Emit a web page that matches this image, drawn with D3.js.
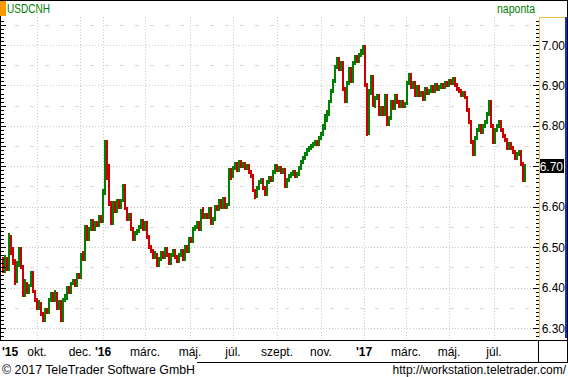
<!DOCTYPE html>
<html>
<head>
<meta charset="utf-8">
<script src="https://cdn.jsdelivr.net/npm/d3@7.9.0/dist/d3.min.js"></script>
<style>
  body { margin: 0; background: #fff; }
  svg { display: block; font-family: "Liberation Sans", Arial, sans-serif; }
</style>
</head>
<body>
<svg id="chart" width="568" height="377"></svg>
<script>
// USDCNH daily, one candle per ~2 trading days (Aug 2015 - Aug 2017)
const firstOpen = 6.46;
const closes = [
  6.44, 6.47, 6.445, 6.53, 6.49, 6.465, 6.415, 6.455, 6.49, 6.45,
  6.38, 6.41, 6.39, 6.405, 6.435, 6.39, 6.37, 6.35, 6.36, 6.335,
  6.32, 6.345, 6.34, 6.37, 6.385, 6.37, 6.385, 6.35, 6.365, 6.32,
  6.37, 6.375, 6.40, 6.39, 6.41, 6.415, 6.405, 6.43, 6.425, 6.48,
  6.47, 6.55, 6.52, 6.545, 6.565, 6.545, 6.56, 6.555, 6.575, 6.565,
  6.64, 6.76, 6.70, 6.61, 6.56, 6.61, 6.59, 6.615, 6.60, 6.615,
  6.65, 6.595, 6.57, 6.58, 6.545, 6.52, 6.535, 6.54, 6.55, 6.565,
  6.545, 6.56, 6.525, 6.50, 6.49, 6.475, 6.48, 6.455, 6.47, 6.485,
  6.475, 6.495, 6.48, 6.46, 6.48, 6.49, 6.475, 6.465, 6.48, 6.49,
  6.47, 6.50, 6.49, 6.52, 6.515, 6.545, 6.55, 6.56, 6.545, 6.59,
  6.575, 6.58, 6.575, 6.595, 6.56, 6.57, 6.60, 6.595, 6.615, 6.60,
  6.62, 6.60, 6.605, 6.69, 6.675, 6.695, 6.705, 6.69, 6.71, 6.70,
  6.705, 6.695, 6.70, 6.685, 6.675, 6.64, 6.625, 6.645, 6.66, 6.665,
  6.645, 6.63, 6.66, 6.67, 6.665, 6.685, 6.70, 6.69, 6.695, 6.685,
  6.69, 6.65, 6.665, 6.675, 6.68, 6.685, 6.675, 6.68, 6.695, 6.71,
  6.72, 6.73, 6.74, 6.745, 6.75, 6.755, 6.76, 6.755, 6.77, 6.78,
  6.80, 6.82, 6.83, 6.86, 6.885, 6.91, 6.945, 6.965, 6.94, 6.955,
  6.89, 6.86, 6.905, 6.94, 6.91, 6.955, 6.97, 6.96, 6.975, 6.985,
  6.995, 6.90, 6.78, 6.88, 6.92, 6.85, 6.87, 6.875, 6.83, 6.845,
  6.83, 6.875, 6.805, 6.82, 6.86, 6.845, 6.875, 6.86, 6.85, 6.86,
  6.85, 6.855, 6.905, 6.925, 6.895, 6.905, 6.875, 6.895, 6.875, 6.88,
  6.865, 6.89, 6.88, 6.885, 6.895, 6.885, 6.90, 6.89, 6.895, 6.90,
  6.895, 6.905, 6.90, 6.91, 6.905, 6.915, 6.90, 6.89, 6.885, 6.875,
  6.88, 6.87, 6.84, 6.81, 6.76, 6.73, 6.77, 6.79, 6.80, 6.785,
  6.80, 6.81, 6.83, 6.86, 6.80, 6.76, 6.79, 6.80, 6.81, 6.79,
  6.775, 6.765, 6.745, 6.755, 6.745, 6.735, 6.72, 6.73, 6.735, 6.705,
  6.665, 6.70
];
const highs = [
  6.475, 6.48, 6.475, 6.535, 6.525, 6.50, 6.47, 6.465, 6.50, 6.50,
  6.455, 6.42, 6.415, 6.41, 6.44, 6.44, 6.395, 6.375, 6.37, 6.365,
  6.34, 6.35, 6.35, 6.375, 6.39, 6.39, 6.395, 6.39, 6.37, 6.37,
  6.375, 6.385, 6.405, 6.405, 6.415, 6.42, 6.42, 6.435, 6.435, 6.485,
  6.49, 6.555, 6.555, 6.55, 6.57, 6.57, 6.565, 6.565, 6.58, 6.58,
  6.645, 6.765, 6.765, 6.705, 6.615, 6.615, 6.615, 6.62, 6.62, 6.62,
  6.655, 6.655, 6.60, 6.585, 6.585, 6.55, 6.54, 6.545, 6.555, 6.57,
  6.57, 6.565, 6.565, 6.53, 6.505, 6.495, 6.49, 6.485, 6.475, 6.49,
  6.49, 6.50, 6.50, 6.485, 6.485, 6.495, 6.495, 6.48, 6.485, 6.495,
  6.495, 6.505, 6.505, 6.525, 6.525, 6.55, 6.555, 6.565, 6.565, 6.595,
  6.60, 6.585, 6.585, 6.60, 6.60, 6.575, 6.605, 6.605, 6.62, 6.62,
  6.625, 6.625, 6.61, 6.695, 6.695, 6.70, 6.71, 6.71, 6.715, 6.715,
  6.71, 6.71, 6.705, 6.705, 6.69, 6.68, 6.645, 6.65, 6.665, 6.67,
  6.67, 6.65, 6.665, 6.675, 6.675, 6.69, 6.705, 6.705, 6.70, 6.70,
  6.695, 6.695, 6.67, 6.68, 6.685, 6.69, 6.69, 6.685, 6.70, 6.715,
  6.725, 6.735, 6.745, 6.75, 6.755, 6.76, 6.765, 6.765, 6.775, 6.785,
  6.805, 6.83, 6.84, 6.865, 6.89, 6.915, 6.95, 6.97, 6.97, 6.96,
  6.96, 6.895, 6.91, 6.945, 6.945, 6.96, 6.975, 6.975, 6.98, 6.99,
  7.00, 7.00, 6.905, 6.89, 6.925, 6.925, 6.875, 6.88, 6.88, 6.85,
  6.85, 6.88, 6.88, 6.825, 6.865, 6.865, 6.88, 6.88, 6.865, 6.865,
  6.865, 6.86, 6.91, 6.93, 6.93, 6.91, 6.91, 6.90, 6.90, 6.885,
  6.885, 6.895, 6.895, 6.89, 6.90, 6.90, 6.905, 6.905, 6.90, 6.905,
  6.905, 6.91, 6.91, 6.915, 6.915, 6.92, 6.92, 6.905, 6.895, 6.89,
  6.885, 6.885, 6.875, 6.845, 6.815, 6.765, 6.775, 6.795, 6.805, 6.805,
  6.805, 6.815, 6.835, 6.865, 6.865, 6.805, 6.795, 6.805, 6.815, 6.815,
  6.795, 6.78, 6.77, 6.76, 6.76, 6.75, 6.74, 6.735, 6.74, 6.74,
  6.71, 6.705
];
const lows = [
  6.435, 6.435, 6.44, 6.44, 6.48, 6.455, 6.405, 6.41, 6.45, 6.445,
  6.375, 6.375, 6.385, 6.385, 6.40, 6.385, 6.365, 6.345, 6.345, 6.33,
  6.315, 6.315, 6.335, 6.335, 6.365, 6.365, 6.365, 6.345, 6.345, 6.315,
  6.315, 6.365, 6.37, 6.385, 6.385, 6.405, 6.40, 6.40, 6.42, 6.42,
  6.465, 6.465, 6.515, 6.515, 6.54, 6.54, 6.54, 6.55, 6.55, 6.56,
  6.56, 6.63, 6.665, 6.60, 6.555, 6.555, 6.585, 6.585, 6.595, 6.595,
  6.61, 6.59, 6.565, 6.565, 6.54, 6.515, 6.515, 6.53, 6.535, 6.545,
  6.54, 6.54, 6.52, 6.495, 6.485, 6.47, 6.47, 6.45, 6.45, 6.465,
  6.47, 6.47, 6.475, 6.455, 6.455, 6.475, 6.47, 6.46, 6.46, 6.475,
  6.465, 6.465, 6.485, 6.485, 6.51, 6.51, 6.54, 6.545, 6.54, 6.54,
  6.57, 6.57, 6.57, 6.57, 6.555, 6.555, 6.565, 6.59, 6.59, 6.595,
  6.595, 6.595, 6.595, 6.60, 6.665, 6.67, 6.69, 6.685, 6.685, 6.695,
  6.695, 6.69, 6.69, 6.68, 6.67, 6.635, 6.62, 6.62, 6.64, 6.655,
  6.64, 6.625, 6.625, 6.655, 6.66, 6.66, 6.68, 6.685, 6.685, 6.68,
  6.68, 6.645, 6.645, 6.66, 6.67, 6.675, 6.67, 6.67, 6.675, 6.69,
  6.705, 6.715, 6.725, 6.735, 6.74, 6.745, 6.75, 6.75, 6.75, 6.765,
  6.775, 6.79, 6.81, 6.825, 6.855, 6.88, 6.905, 6.94, 6.935, 6.935,
  6.885, 6.855, 6.855, 6.90, 6.905, 6.905, 6.95, 6.955, 6.955, 6.97,
  6.975, 6.895, 6.775, 6.775, 6.875, 6.845, 6.845, 6.865, 6.825, 6.825,
  6.825, 6.825, 6.80, 6.80, 6.815, 6.84, 6.84, 6.855, 6.845, 6.845,
  6.845, 6.845, 6.85, 6.90, 6.89, 6.89, 6.87, 6.87, 6.87, 6.87,
  6.86, 6.86, 6.875, 6.875, 6.88, 6.88, 6.88, 6.885, 6.885, 6.89,
  6.89, 6.89, 6.895, 6.895, 6.90, 6.90, 6.895, 6.885, 6.88, 6.87,
  6.87, 6.865, 6.835, 6.805, 6.755, 6.725, 6.725, 6.765, 6.785, 6.78,
  6.78, 6.795, 6.805, 6.825, 6.795, 6.755, 6.755, 6.785, 6.795, 6.785,
  6.77, 6.76, 6.74, 6.74, 6.74, 6.73, 6.715, 6.715, 6.725, 6.70,
  6.66, 6.66
];

// month marks: label and candle index where the month starts
const monthLabels = ["okt.", "dec.", "'16", "márc.", "máj.", "júl.", "szept.", "nov.", "'17", "márc.", "máj.", "júl."];
const monthIdx = [17, 38.5, 50, 71, 93.5, 115, 137, 159, 180.5, 201.5, 223, 245.5];
const yearLabels = ["'15", "'16", "'17"];

const priceTicks = [6.30, 6.40, 6.50, 6.60, 6.70, 6.80, 6.90, 7.00];
const halfTicks = [6.35, 6.45, 6.55, 6.65, 6.75, 6.85, 6.95, 7.05];

const svg = d3.select('#chart');
const W = 568, H = 377;
const plotL = 1, plotR = 539, plotT = 17, plotB = 340;

const x = d3.scaleLinear().domain([0, closes.length - 1]).range([3, 525]);
const y = d3.scaleLinear().domain([6.30, 7.00]).range([328, 45]);

svg.append('rect').attr('width', W).attr('height', H).attr('fill', '#fff');

// grid
const grid = svg.append('g');
grid.selectAll('.h').data(priceTicks).join('line')
  .attr('x1', plotL + 1).attr('x2', plotR)
  .attr('y1', d => Math.round(y(d)) + 0.5).attr('y2', d => Math.round(y(d)) + 0.5)
  .attr('stroke', '#c8c8c8').attr('stroke-dasharray', '1,2');
grid.selectAll('.hh').data(halfTicks).join('line')
  .attr('x1', 15).attr('x2', plotR)
  .attr('y1', d => Math.round(y(d)) + 0.5).attr('y2', d => Math.round(y(d)) + 0.5)
  .attr('stroke', '#d8d8d8').attr('stroke-dasharray', '4,11');
grid.selectAll('.v').data(monthIdx).join('line')
  .attr('x1', d => Math.round(x(d)) + 0.5).attr('x2', d => Math.round(x(d)) + 0.5)
  .attr('y1', plotT).attr('y2', plotB)
  .attr('stroke', '#c8c8c8').attr('stroke-dasharray', '1,2');

// candles: body from previous close to close, wick from low to high
const candles = closes.map((c, i) => ({
  i, o: i === 0 ? firstOpen : closes[i - 1], c, h: highs[i], l: lows[i]
}));
const color = d => d.c >= d.o ? '#008000' : '#cc0000';
const cg = svg.append('g');
cg.selectAll('.wick').data(candles).join('rect')
  .attr('x', d => Math.round(x(d.i)) - 1)
  .attr('width', 2)
  .attr('y', d => Math.round(y(d.h)))
  .attr('height', d => Math.max(1, Math.round(y(d.l) - y(d.h))))
  .attr('fill', color);
cg.selectAll('.body').data(candles).join('rect')
  .attr('x', d => Math.round(x(d.i)) - 1)
  .attr('width', 2)
  .attr('y', d => Math.round(y(Math.max(d.o, d.c))))
  .attr('height', d => Math.max(1, Math.round(Math.abs(y(d.o) - y(d.c)))))
  .attr('fill', color);

// left axis ticks
const minor = d3.range(6.27, 7.065, 0.01);
svg.append('g').selectAll('line').data(minor).join('line')
  .attr('x1', 1).attr('x2', d => Math.abs(d * 20 - Math.round(d * 20)) < 0.01 ? 6 : 4)
  .attr('y1', d => Math.round(y(d)) + 0.5).attr('y2', d => Math.round(y(d)) + 0.5)
  .attr('stroke', '#000');

// right axis
const last = closes[closes.length - 1];
svg.append('g').selectAll('line').data(minor.filter(d => y(d) > plotT + 2 && y(d) < plotB - 2)).join('line')
  .attr('x1', d => priceTicks.some(t => Math.abs(t - d) < 0.001) ? 533 : 536).attr('x2', 539)
  .attr('y1', d => Math.round(y(d)) + 0.5).attr('y2', d => Math.round(y(d)) + 0.5)
  .attr('stroke', '#000');
svg.append('line').attr('x1', 539.5).attr('x2', 539.5).attr('y1', plotT).attr('y2', 338)
  .attr('stroke', '#f0c040');
svg.append('line').attr('x1', 539).attr('x2', 566).attr('y1', plotT + 0.5).attr('y2', plotT + 0.5)
  .attr('stroke', '#f0c040');
svg.append('rect').attr('x', 565).attr('y', plotT).attr('width', 2).attr('height', 338 - plotT)
  .attr('fill', '#1030c0');
svg.append('g').selectAll('text')
  .data(priceTicks.filter(d => Math.abs(y(d) - y(last)) > 12)).join('text')
  .attr('x', 565).attr('y', d => y(d) + 4.5)
  .attr('text-anchor', 'end').attr('font-size', 12).attr('fill', '#000')
  .text(d => d.toFixed(2));

// last price box
svg.append('rect').attr('x', 540).attr('y', Math.round(y(last)) - 7).attr('width', 24).attr('height', 14)
  .attr('fill', '#000');
svg.append('text').attr('x', 563).attr('y', y(last) + 4.5)
  .attr('text-anchor', 'end').attr('font-size', 12).attr('fill', '#fff')
  .text(last.toFixed(2));

// frame
svg.append('line').attr('x1', 0).attr('x2', W).attr('y1', 0.5).attr('y2', 0.5).attr('stroke', '#000');
svg.append('line').attr('x1', 0.5).attr('x2', 0.5).attr('y1', 0).attr('y2', plotB).attr('stroke', '#000');
svg.append('line').attr('x1', 567.5).attr('x2', 567.5).attr('y1', 0).attr('y2', 362).attr('stroke', '#000');
svg.append('line').attr('x1', 0).attr('x2', W).attr('y1', plotB + 0.5).attr('y2', plotB + 0.5).attr('stroke', '#000');
svg.append('line').attr('x1', 197).attr('x2', W).attr('y1', 362.5).attr('y2', 362.5).attr('stroke', '#000');
svg.append('line').attr('x1', 538.5).attr('x2', 538.5).attr('y1', plotB).attr('y2', 362).attr('stroke', '#000');
svg.append('rect').attr('x', 0).attr('y', 1).attr('width', 6).attr('height', 15).attr('fill', '#f59a00');

// x axis labels
svg.append('text').attr('x', 2).attr('y', 356).attr('font-size', 12).attr('font-weight', 'bold')
  .text(yearLabels[0]);
svg.append('g').selectAll('text').data(monthLabels).join('text')
  .attr('x', (d, i) => x(monthIdx[i]))
  .attr('y', 356)
  .attr('text-anchor', 'middle')
  .attr('font-size', 12)
  .attr('font-weight', d => yearLabels.includes(d) ? 'bold' : null)
  .text(d => d);

// titles
svg.append('text').attr('x', 7).attr('y', 13).attr('font-size', 12).attr('fill', '#008000')
  .attr('textLength', 43).attr('lengthAdjust', 'spacingAndGlyphs').text('USDCNH');
svg.append('text').attr('x', 497).attr('y', 13).attr('font-size', 12).attr('fill', '#008000')
  .attr('textLength', 38).attr('lengthAdjust', 'spacingAndGlyphs').text('naponta');

// footer
svg.append('text').attr('x', 2).attr('y', 374).attr('font-size', 12).attr('fill', '#000')
  .attr('textLength', 193).attr('lengthAdjust', 'spacingAndGlyphs').text('© 2017 TeleTrader Software GmbH');
svg.append('text').attr('x', 566).attr('y', 374).attr('font-size', 12).attr('fill', '#000')
  .attr('text-anchor', 'end').text('http://workstation.teletrader.com/');
</script>
</body>
</html>
